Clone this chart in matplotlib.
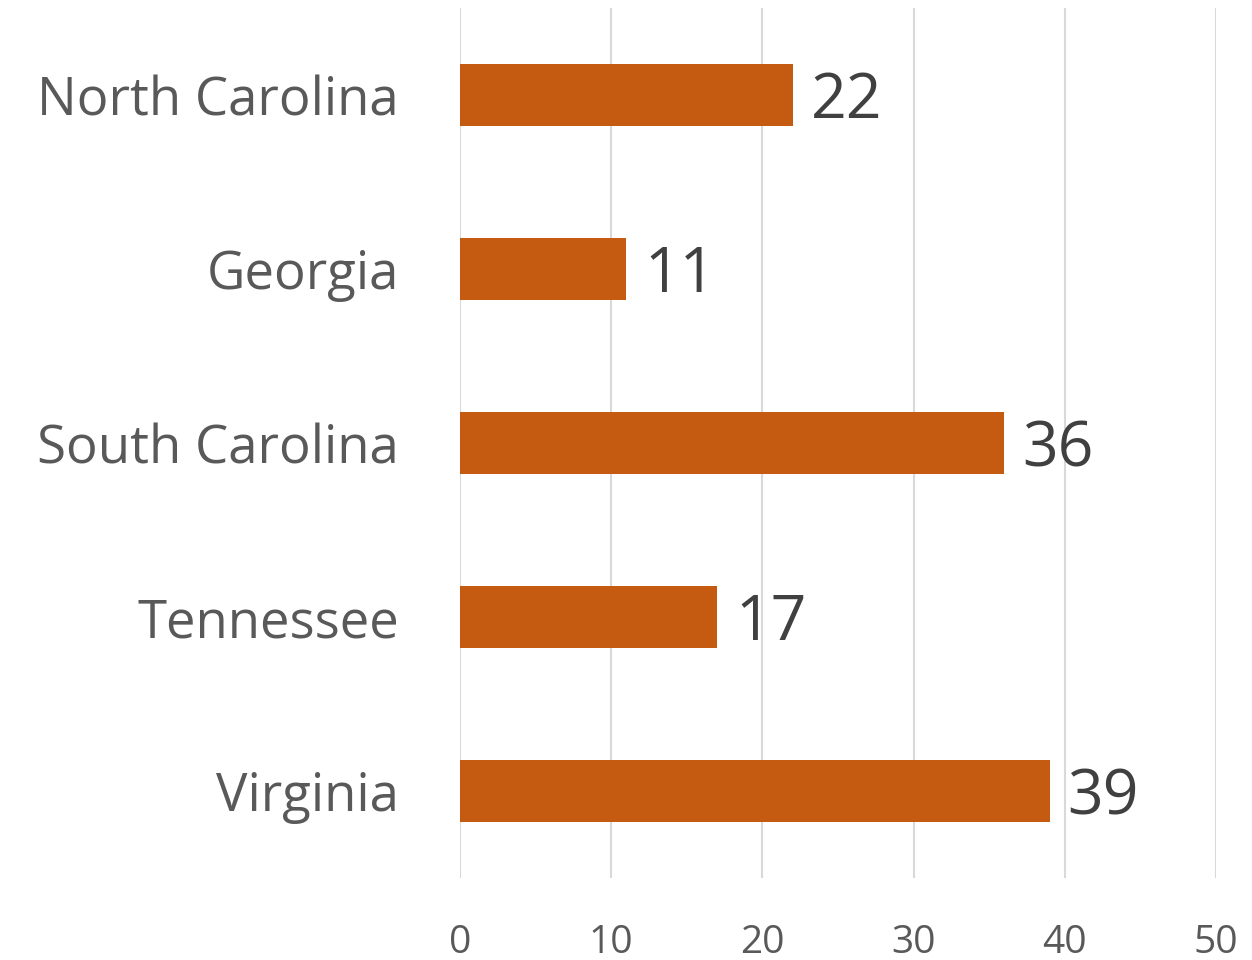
import matplotlib
matplotlib.use("Agg")
import matplotlib.pyplot as plt

states = ["North Carolina", "Georgia", "South Carolina", "Tennessee", "Virginia"]
values = [22, 11, 36, 17, 39]
xticks = [0, 10, 20, 30, 40, 50]

plt.rcParams['font.family'] = ['Open Sans', 'DejaVu Sans']

fig = plt.figure(figsize=(12.52, 9.6), dpi=100)
ax = fig.add_axes([460 / 1252, 1 - 878 / 960, 756 / 1252, 870 / 960])

pos = list(range(len(states)))
bars = ax.barh(pos, values, height=0.36, color='#C55A11', zorder=3)

for y, v in zip(pos, values):
    ax.annotate(str(v), (v, y), xytext=(13, -5), textcoords='offset points',
                ha='left', va='center', fontsize=45, color='#404040')

ax.set_xlim(0, 50)
ax.set_ylim(len(states) - 0.5, -0.5)
ax.set_xticks(xticks)
ax.set_yticks(pos)
ax.set_yticklabels(states)
ax.tick_params(axis='x', length=0, pad=33, labelsize=28, labelcolor='#595959')
ax.tick_params(axis='y', length=0, pad=44, labelsize=38, labelcolor='#595959')
ax.grid(axis='x', color='#D9D9D9', lw=1.5, zorder=0)
for s in ax.spines.values():
    s.set_visible(False)

fig.savefig("out.png", dpi=100)
